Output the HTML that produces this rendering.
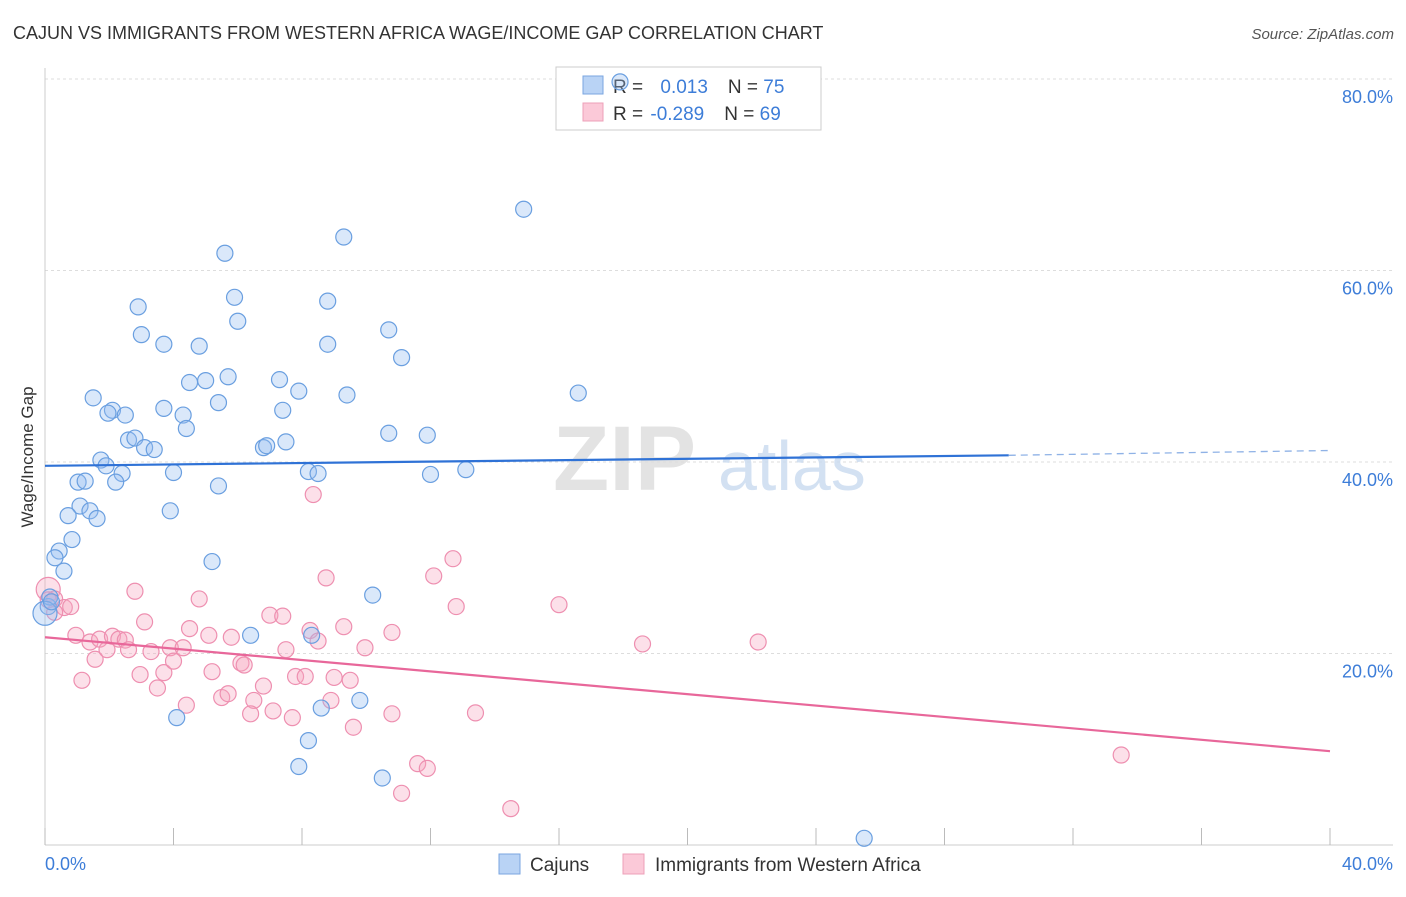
<!DOCTYPE html>
<html><head><meta charset="utf-8"><style>
body{margin:0;background:#fff;font-family:"Liberation Sans",sans-serif;}
svg text{font-family:"Liberation Sans",sans-serif;}
</style></head><body>
<svg id="chart" width="1406" height="892" viewBox="0 0 1406 892" xmlns="http://www.w3.org/2000/svg">
<text x="13" y="39" font-size="18" fill="#333">CAJUN VS IMMIGRANTS FROM WESTERN AFRICA WAGE/INCOME GAP CORRELATION CHART</text>
<text x="1394" y="39" font-size="15" fill="#555" font-style="italic" text-anchor="end">Source: ZipAtlas.com</text>
<g id="grid"></g>
<g><text x="553" y="490" font-size="92" fill="#ddd" font-family="Liberation Serif" font-weight="bold" opacity="0.8">ZIP</text><text x="718" y="490" font-size="70" fill="#c9daf0" opacity="0.8">atlas</text></g>
<line x1="45" y1="68" x2="45" y2="845" stroke="#ccc"/>
<line x1="45" y1="845" x2="1393" y2="845" stroke="#ccc"/>
<g id="xticks"></g>
<g id="yticks"></g>
<text transform="translate(33,457) rotate(-90)" font-size="17" fill="#333" text-anchor="middle">Wage/Income Gap</text>
<text x="45" y="870" font-size="18" fill="#3d7dd8">0.0%</text>
<text x="1393" y="870" font-size="18" fill="#3d7dd8" text-anchor="end">40.0%</text>
<g>
<rect x="556" y="67" width="265" height="63" fill="#fff" stroke="#ccc"/>
<rect x="583" y="76" width="20" height="18" fill="#b9d3f5" stroke="#7aa6e0"/>
<rect x="583" y="103" width="20" height="18" fill="#fbc9d8" stroke="#eea0b8"/>
<text x="613" y="93" font-size="19" fill="#333">R = <tspan fill="#3d7dd8" dx="12">0.013</tspan><tspan dx="20">N = </tspan><tspan fill="#3d7dd8">75</tspan></text>
<text x="613" y="120" font-size="19" fill="#333">R = <tspan fill="#3d7dd8" dx="2">-0.289</tspan><tspan dx="20">N = </tspan><tspan fill="#3d7dd8">69</tspan></text>
</g>
<g id="pinkpts"></g>
<g id="bluepts"></g>
<g id="trends"></g>
<g>
<rect x="499" y="854" width="21" height="20" fill="#b9d3f5" stroke="#7aa6e0"/>
<text x="530" y="871" font-size="19" fill="#333">Cajuns</text>
<rect x="623" y="854" width="21" height="20" fill="#fbc9d8" stroke="#eea0b8"/>
<text x="655" y="871" font-size="19" fill="#333">Immigrants from Western Africa</text>
</g>
</svg>
<script>
const yTicks=[20,40,60,80];
const yTickLabels=["20.0%","40.0%","60.0%","80.0%"];
const xTicks=[0,4,8,12,16,20,24,28,32,36,40];
const blueX=[17.9,14.9,9.3,5.6,2.9,5.9,8.8,6.0,3.0,3.7,4.8,8.8,10.7,11.1,16.6,5.7,5.0,4.5,7.3,1.5,3.7,5.4,7.9,9.4,7.4,2.1,1.96,2.5,4.3,4.4,10.7,11.9,2.6,2.8,3.1,3.4,7.5,6.8,6.9,1.74,1.9,2.4,2.2,4.0,5.4,8.2,8.5,12.0,13.1,1.03,1.25,1.09,1.4,0.72,1.62,3.9,0.84,0.44,0.31,0.59,5.2,10.2,6.4,8.3,4.1,8.6,9.8,8.2,7.9,10.5,25.5,0.1,0.15,0.0,0.2];
const blueY=[79.7,66.4,63.5,61.8,56.2,57.2,56.8,54.7,53.3,52.3,52.1,52.3,53.8,50.9,47.2,48.9,48.5,48.3,48.6,46.7,45.6,46.2,47.4,47.0,45.4,45.4,45.1,44.9,44.9,43.5,43.0,42.8,42.3,42.5,41.5,41.3,42.1,41.5,41.7,40.2,39.6,38.8,37.9,38.9,37.5,39.0,38.8,38.7,39.2,37.9,38.0,35.4,34.9,34.4,34.1,34.9,31.9,30.7,30.0,28.6,29.6,26.1,21.9,21.9,13.3,14.3,15.1,10.9,8.2,7.0,0.7,24.9,25.9,24.2,25.4];
const pinkX=[0.1,0.3,0.6,0.8,2.8,4.8,3.1,0.96,1.4,1.7,2.1,2.3,2.5,2.6,3.3,3.9,4.3,4.5,5.1,5.8,1.56,1.93,1.15,2.96,3.5,3.7,4.0,4.4,5.2,5.5,5.7,6.1,6.2,6.8,6.5,6.4,7.0,7.4,7.7,7.1,7.5,7.8,8.1,8.25,8.5,8.35,8.75,9.3,9.0,9.5,8.9,9.6,9.96,10.8,10.8,11.6,11.9,11.1,12.1,12.7,12.8,13.4,14.5,16.0,18.6,22.2,33.5,0.3,0.1];
const pinkY=[26.7,25.7,24.8,24.9,26.5,25.7,23.3,21.9,21.2,21.5,21.8,21.5,21.4,20.4,20.2,20.6,20.6,22.6,21.9,21.7,19.4,20.4,17.2,17.8,16.4,18.0,19.2,14.6,18.1,15.4,15.8,19.0,18.8,16.6,15.1,13.7,24.0,23.9,13.3,14.0,20.4,17.6,17.6,22.4,21.3,36.6,27.9,22.8,17.5,17.2,15.1,12.3,20.6,22.2,13.7,8.5,8.0,5.4,28.1,29.9,24.9,13.8,3.8,25.1,21.0,21.2,9.4,24.3,25.6];
const blueTrend=[[0,39.6],[30,40.7],[40,41.2]];
const pinkTrend=[[0,21.7],[40,9.8]];
const X=v=>45+v*32.125, Y=v=>845-v*9.575;
const NS="http://www.w3.org/2000/svg";
function mk(tag,parent,attrs){const e=document.createElementNS(NS,tag);for(const k in attrs)e.setAttribute(k,attrs[k]);document.getElementById(parent).appendChild(e);return e;}
yTicks.forEach((t,i)=>{
 const l=mk('line','grid',{x1:45,x2:1393,y1:Y(t),y2:Y(t),stroke:'#ddd','stroke-dasharray':'3,3'});
 
 
 const tx=mk('text','yticks',{x:1393,y:Y(t)+24,'font-size':18,fill:'#3d7dd8','text-anchor':'end'});
 tx.textContent=yTickLabels[i];
 
 
});
xTicks.forEach(t=>{
 const l=mk('line','xticks',{x1:X(t),x2:X(t),y1:828,y2:845,stroke:'#bbb'});
 
 
});
pinkX.forEach((v,i)=>{
 const c=mk('circle','pinkpts',{cx:X(v),cy:Y(pinkY[i]),r:i==0?12:8,fill:'rgba(246,166,192,0.35)',stroke:'#ee8fb0','stroke-width':1.2});
 
 
});
blueX.forEach((v,i)=>{
 const c=mk('circle','bluepts',{cx:X(v),cy:Y(blueY[i]),r:i==73?12:8,fill:'rgba(150,190,240,0.35)',stroke:'#6a9fe0','stroke-width':1.2});
 
 
});
const b1=mk('line','trends',{x1:X(blueTrend[0][0]),y1:Y(blueTrend[0][1]),x2:X(blueTrend[1][0]),y2:Y(blueTrend[1][1]),stroke:'#2f72d6','stroke-width':2.2});


const b2=mk('line','trends',{x1:X(blueTrend[1][0]),y1:Y(blueTrend[1][1]),x2:X(blueTrend[2][0]),y2:Y(blueTrend[2][1]),stroke:'#8fb2e6','stroke-width':1.3,'stroke-dasharray':'7,5'});


const p1=mk('line','trends',{x1:X(pinkTrend[0][0]),y1:Y(pinkTrend[0][1]),x2:X(pinkTrend[1][0]),y2:Y(pinkTrend[1][1]),stroke:'#e8679a','stroke-width':2.2});


</script>
</body></html>
